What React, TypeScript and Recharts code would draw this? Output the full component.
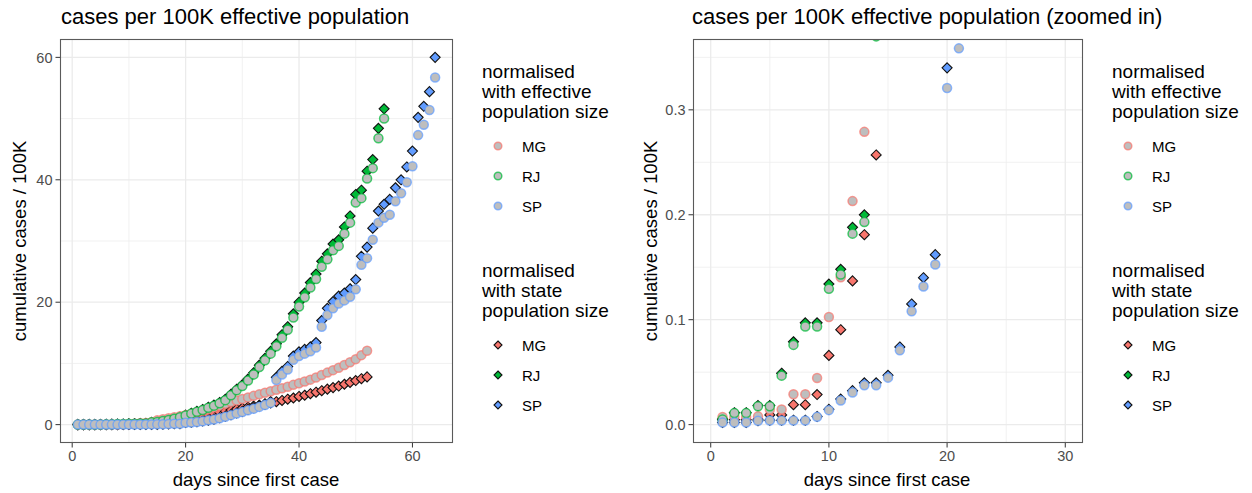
import React from "react";
import { ScatterChart, Scatter, XAxis, YAxis, CartesianGrid } from "recharts";

// cumulative cases per 100K, one value per day since first case (day 1 first)
const MG_EFFECTIVE = [
  0.0072, 0.0072, 0.0072, 0.0079, 0.0144, 0.0144, 0.029, 0.029, 0.0445, 0.1025,
  0.1405, 0.213, 0.279, 0.398, 0.7, 0.9, 1.05, 1.2, 1.35, 1.55,
  1.75, 2.0, 2.25, 2.5, 2.8, 3.1, 3.4, 3.7, 3.95, 4.2,
  4.45, 4.7, 4.95, 5.2, 5.45, 5.7, 5.95, 6.2, 6.5, 6.75,
  7.05, 7.35, 7.7, 8.1, 8.5, 8.9, 9.3, 9.75, 10.2, 10.7,
  11.35, 12.07,
];
const RJ_EFFECTIVE = [
  0.005, 0.011, 0.011, 0.0176, 0.0176, 0.0467, 0.076, 0.0936, 0.0936, 0.1294,
  0.143, 0.182, 0.193, 0.37, 0.45, 0.6, 0.75, 0.95, 1.2, 1.5,
  1.8, 2.1, 2.4, 2.75, 3.1, 3.5, 4.0, 4.8, 5.6, 6.3,
  7.2, 8.2, 9.4, 10.5, 11.6, 12.8, 14.2, 15.5, 17.5, 19.3,
  20.8, 22.4, 23.8, 25.8, 27.0, 28.5, 29.2, 31.2, 33.0, 36.3,
  37.0, 40.2, 41.9, 46.8, 50.0,
];
const SP_EFFECTIVE = [
  0.002, 0.002, 0.002, 0.0036, 0.004, 0.004, 0.004, 0.004, 0.0074, 0.0138,
  0.023, 0.0306, 0.0375, 0.0375, 0.0448, 0.0708, 0.108, 0.1316, 0.1526, 0.3208,
  0.3586, 0.43, 0.55, 0.7, 0.85, 1.05, 1.3, 1.55, 1.8, 2.05,
  2.35, 2.6, 2.9, 3.2, 3.55, 7.3, 8.2, 9.0, 10.6, 11.2,
  11.6, 12.0, 12.6, 16.0, 17.9, 19.0, 19.8, 20.3, 20.9, 22.1,
  26.1, 27.2, 30.2, 33.0, 33.8, 34.3, 36.5, 37.8, 39.6, 42.2,
  47.3, 49.0, 51.4, 56.7,
];

const MG_STATE = [
  0.0046, 0.0046, 0.0046, 0.0051, 0.0093, 0.0093, 0.019, 0.019, 0.0287, 0.066,
  0.0905, 0.137, 0.181, 0.257, 0.45, 0.58, 0.68, 0.77, 0.87, 1.0,
  1.13, 1.29, 1.45, 1.61, 1.81, 2.0, 2.19, 2.39, 2.55, 2.71,
  2.87, 3.03, 3.19, 3.35, 3.52, 3.75, 3.95, 4.15, 4.35, 4.6,
  4.8, 5.05, 5.3, 5.55, 5.8, 6.05, 6.3, 6.6, 6.9, 7.2,
  7.5, 7.8,
];
const RJ_STATE = [
  0.0053, 0.0114, 0.0114, 0.0182, 0.0182, 0.049, 0.079, 0.097, 0.097, 0.134,
  0.148, 0.188, 0.2, 0.385, 0.47, 0.62, 0.78, 0.98, 1.24, 1.55,
  1.86, 2.17, 2.48, 2.84, 3.2, 3.62, 4.14, 4.96, 5.79, 6.51,
  7.44, 8.48, 9.72, 10.86, 12.0, 13.2, 14.7, 16.0, 18.1, 20.0,
  21.5, 23.2, 24.6, 26.7, 27.9, 29.5, 30.2, 32.3, 34.1, 37.6,
  38.3, 41.4, 43.3, 48.4, 51.6,
];
const SP_STATE = [
  0.0021, 0.0021, 0.0021, 0.0038, 0.0042, 0.0042, 0.0042, 0.0042, 0.0078, 0.0146,
  0.0244, 0.0324, 0.0398, 0.0398, 0.047, 0.074, 0.115, 0.14, 0.162, 0.34,
  0.38, 0.46, 0.58, 0.74, 0.9, 1.11, 1.38, 1.64, 1.91, 2.17,
  2.49, 2.76, 3.07, 3.39, 3.76, 7.74, 8.7, 9.5, 11.2, 11.9,
  12.3, 12.7, 13.4, 17.0, 19.0, 20.1, 21.0, 21.5, 22.2, 23.7,
  27.5, 29.0, 32.1, 34.9, 36.0, 36.8, 38.7, 40.0, 42.1, 44.7,
  50.2, 52.0, 54.4, 60.0,
];

const STATES = ["MG", "RJ", "SP"];
const EFFECTIVE_TITLE = ["normalised", "with effective", "population size"];
const STATE_TITLE = ["normalised", "with state", "population size"];

// full view
const FULL_X_TICKS = [0, 20, 40, 60];
const FULL_X_MINOR = [10, 30, 50];
const FULL_Y_TICKS = [0, 20, 40, 60];
const FULL_Y_MINOR = [10, 30, 50];
// zoomed view
const ZOOM_X_TICKS = [0, 10, 20, 30];
const ZOOM_X_MINOR = [5, 15, 25];
const ZOOM_Y_TICKS = [0, 0.1, 0.2, 0.3];
const ZOOM_Y_MINOR = [0.05, 0.15, 0.25, 0.35];

const COLORS: Record<string, string> = { MG: "#F8766D", RJ: "#00BA38", SP: "#619CFF" };
const FONT = '"Liberation Sans", Arial, Helvetica, sans-serif';

const toPoints = (values: number[]) => values.map((value, i) => ({ day: i + 1, value }));

const effectiveSeries = [MG_EFFECTIVE, RJ_EFFECTIVE, SP_EFFECTIVE].map(toPoints);
const stateSeries = [MG_STATE, RJ_STATE, SP_STATE].map(toPoints);

// ── point shapes (ggplot shape 21 / 23 look) ─────────────────────────────────

const circleShape = (color: string, r = 4.5) => (props: any) => (
  <circle
    cx={props.cx}
    cy={props.cy}
    r={r}
    fill="#BEBEBE"
    stroke={color}
    strokeOpacity={0.72}
    strokeWidth={1.5}
  />
);

const diamondShape = (color: string, s = 5) => (props: any) => {
  const { cx, cy } = props;
  return (
    <path
      d={`M${cx},${cy - s}L${cx + s},${cy}L${cx},${cy + s}L${cx - s},${cy}Z`}
      fill={color}
      stroke="#111"
      strokeWidth={1.1}
    />
  );
};

// ── one panel ────────────────────────────────────────────────────────────────

interface PanelProps {
  left: number;
  marginRight: number;
  xDomain: [number, number];
  yDomain: [number, number];
  xTicks: number[];
  xMinor: number[];
  yTicks: number[];
  yMinor: number[];
  yFormat: (v: number) => string;
}

const tickStyle = { fill: "#4D4D4D", fontSize: 14.5, fontFamily: FONT };

function Panel({ left, marginRight, xDomain, yDomain, xTicks, xMinor, yTicks, yMinor, yFormat }: PanelProps) {
  return (
    <div style={{ position: "absolute", left, top: 0 }}>
      <ScatterChart width={470} height={493} margin={{ top: 39, right: marginRight, bottom: 20, left: 20 }}>
        <CartesianGrid horizontalValues={yMinor} verticalValues={xMinor} stroke="#EEEEEE" strokeWidth={0.8} />
        <CartesianGrid horizontalValues={yTicks} verticalValues={xTicks} stroke="#EBEBEB" strokeWidth={1.3} />
        <XAxis
          type="number"
          dataKey="day"
          domain={xDomain}
          ticks={xTicks}
          interval={0}
          allowDataOverflow
          axisLine={false}
          tickLine={{ stroke: "#333333" }}
          tickSize={4.5}
          tickMargin={3}
          tick={tickStyle}
          height={30}
        />
        <YAxis
          type="number"
          dataKey="value"
          domain={yDomain}
          ticks={yTicks}
          interval={0}
          allowDataOverflow
          axisLine={false}
          tickLine={{ stroke: "#333333" }}
          tickSize={4.5}
          tickMargin={3}
          tick={tickStyle}
          tickFormatter={yFormat}
          width={40}
        />
        {stateSeries.map((pts, i) => (
          <Scatter
            key={`state-${STATES[i]}`}
            data={pts}
            shape={diamondShape(COLORS[STATES[i]])}
            isAnimationActive={false}
          />
        ))}
        {effectiveSeries.map((pts, i) => (
          <Scatter
            key={`eff-${STATES[i]}`}
            data={pts}
            shape={circleShape(COLORS[STATES[i]])}
            isAnimationActive={false}
          />
        ))}
      </ScatterChart>
    </div>
  );
}

// ── legend column ────────────────────────────────────────────────────────────

function LegendColumn({ left }: { left: number }) {
  const titleStyle = { fontSize: 19, fill: "#000", fontFamily: FONT };
  const labelStyle = { fontSize: 15, fill: "#000", fontFamily: FONT };
  return (
    <svg style={{ position: "absolute", left, top: 0 }} width={160} height={493}>
      {EFFECTIVE_TITLE.map((t, i) => (
        <text key={t} x={12} y={78 + i * 20} style={titleStyle}>{t}</text>
      ))}
      {STATES.map((s, i) => (
        <g key={`le-${s}`}>
          {circleShape(COLORS[s], 3.8)({ cx: 28, cy: 146 + i * 30 })}
          <text x={52} y={151.5 + i * 30} style={labelStyle}>{s}</text>
        </g>
      ))}
      {STATE_TITLE.map((t, i) => (
        <text key={`st-${t}`} x={12} y={277 + i * 20} style={titleStyle}>{t}</text>
      ))}
      {STATES.map((s, i) => (
        <g key={`ls-${s}`}>
          {diamondShape(COLORS[s], 4)({ cx: 28, cy: 345 + i * 30 })}
          <text x={52} y={350.5 + i * 30} style={labelStyle}>{s}</text>
        </g>
      ))}
    </svg>
  );
}

export default function App() {
  const titleStyle = { fontSize: 22, fill: "#000", fontFamily: FONT };
  const axisTitleStyle = { fontSize: 18.5, fill: "#000", fontFamily: FONT };
  return (
    <div style={{ position: "absolute", left: 0, top: 0, width: 1252, height: 493, background: "#fff", overflow: "hidden" }}>
      <Panel
        left={0}
        marginRight={17}
        xDomain={[-2.15, 67.15]}
        yDomain={[-3.0, 63.0]}
        xTicks={FULL_X_TICKS}
        xMinor={FULL_X_MINOR}
        yTicks={FULL_Y_TICKS}
        yMinor={FULL_Y_MINOR}
        yFormat={(v) => String(v)}
      />
      <Panel
        left={633}
        marginRight={20}
        xDomain={[-1.5, 31.5]}
        yDomain={[-0.0175, 0.3675]}
        xTicks={ZOOM_X_TICKS}
        xMinor={ZOOM_X_MINOR}
        yTicks={ZOOM_Y_TICKS}
        yMinor={ZOOM_Y_MINOR}
        yFormat={(v) => v.toFixed(1)}
      />
      <LegendColumn left={470} />
      <LegendColumn left={1100} />
      <svg style={{ position: "absolute", left: 0, top: 0, pointerEvents: "none" }} width={1252} height={493}>
        <rect x={60.5} y={39.5} width={392} height={403} fill="none" stroke="#5A5A5A" strokeWidth={1.1} />
        <rect x={693.5} y={39.5} width={389} height={403} fill="none" stroke="#5A5A5A" strokeWidth={1.1} />
        <text x={61} y={24} style={titleStyle}>cases per 100K effective population</text>
        <text x={692} y={24} style={titleStyle}>cases per 100K effective population (zoomed in)</text>
        <text x={256} y={486} textAnchor="middle" style={axisTitleStyle}>days since first case</text>
        <text x={887} y={486} textAnchor="middle" style={axisTitleStyle}>days since first case</text>
        <text transform="translate(26,241) rotate(-90)" textAnchor="middle" style={axisTitleStyle}>cumulative cases / 100K</text>
        <text transform="translate(657,241) rotate(-90)" textAnchor="middle" style={axisTitleStyle}>cumulative cases / 100K</text>
      </svg>
    </div>
  );
}
